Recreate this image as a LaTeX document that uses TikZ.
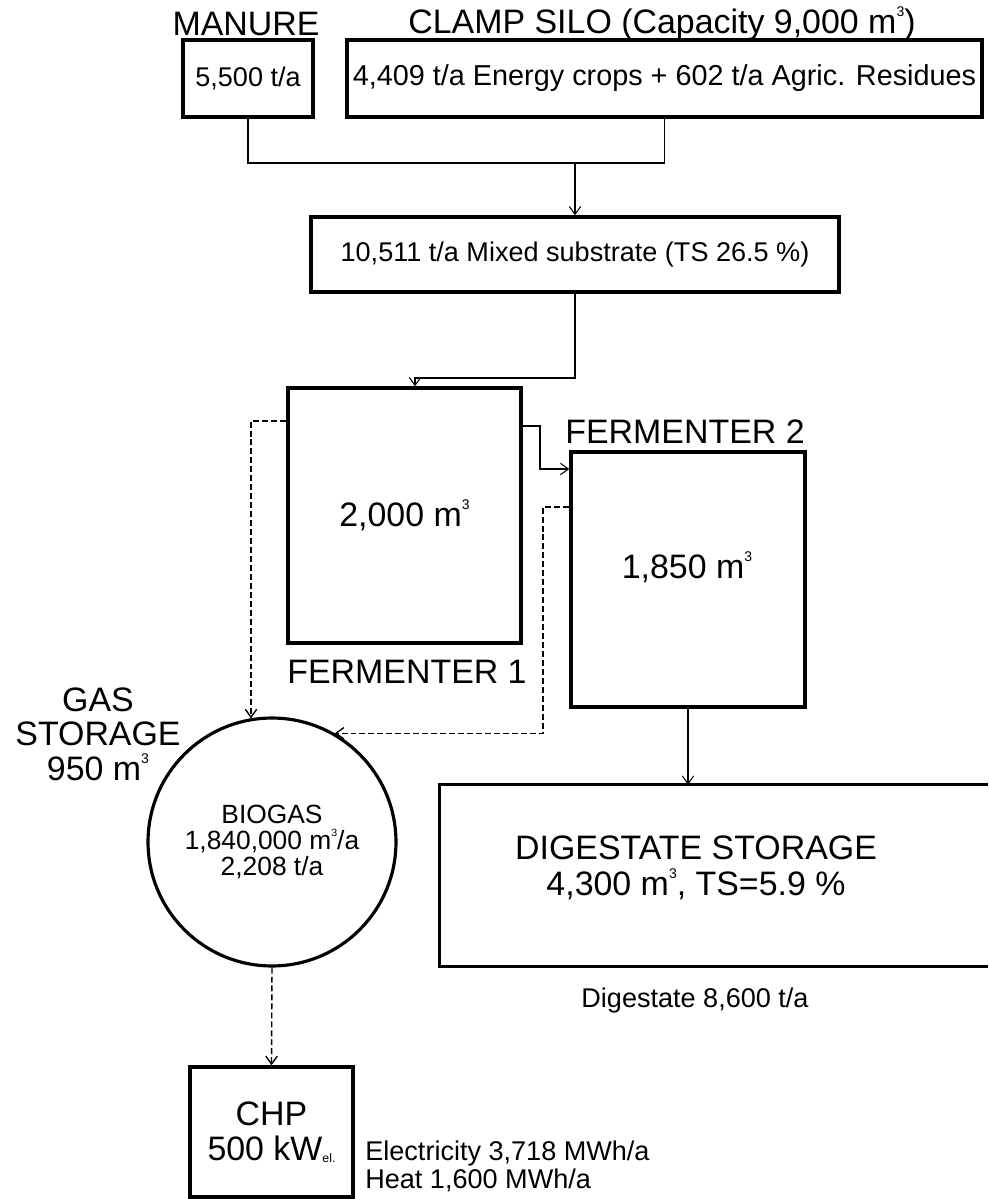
\documentclass[tikz,border=0pt]{standalone}
\usepackage{fontspec}
\setmainfont{Liberation Sans}
\usepackage{tikz}
\usetikzlibrary{arrows.meta}
\usetikzlibrary{backgrounds,calc,positioning}
\pgfdeclarelayer{edgelayer}
\pgfdeclarelayer{nodelayer}
\pgfsetlayers{background,edgelayer,nodelayer,main}
\newcommand{\bigfont}{\fontsize{19.3}{19.6}\selectfont}
\newcommand{\smallfont}{\fontsize{15.4}{15.4}\selectfont}
\newcommand{\cub}{\raisebox{0.95ex}{\fontsize{8}{8}\selectfont 3}}
\newcommand{\cubs}{\raisebox{0.95ex}{\fontsize{6}{6}\selectfont 3}}
\newcommand{\elsub}{\raisebox{-0.1ex}{\fontsize{7}{7}\selectfont el.}}
\tikzstyle{none}=[inner sep=0mm]
\tikzstyle{box}=[draw=black,line width=2pt,shape=rectangle,inner sep=0mm]
\tikzstyle{tank}=[draw=black,line width=1.8pt,shape=circle,inner sep=0mm,minimum size=4.96cm]
\tikzstyle{big}=[inner sep=0mm,align=center,font=\bigfont]
\tikzstyle{small}=[inner sep=0mm,align=center,font=\smallfont]
\tikzstyle{feed}=[line width=0.6pt]
\tikzstyle{flow}=[feed,-{Straight Barb[length=4.5pt,width=6.5pt]}]
\tikzstyle{gasflow}=[flow,line width=0.8pt,dash pattern=on 3.4pt off 1.7pt]

\begin{document}
\begin{tikzpicture}[x=0.02cm,y=-0.02cm]
	\useasboundingbox (0,0) rectangle (988,1199);
	\begin{pgfonlayer}{nodelayer}
		\node [style=big] (manurelbl) at (246,24) {MANURE};
		\node [style=big] (silolbl) at (662,24) {CLAMP SILO (Capacity 9,000 m\cub)};
		\node [style=box,font=\smallfont,minimum width=2.6cm,minimum height=1.54cm] (manure) at (248,78.5) {5,500 t/a};
		\node [style=box,font=\fontsize{16.4}{16.4}\selectfont,minimum width=12.7cm,minimum height=1.54cm] (silo) at (664.5,78.5) {4,409 t/a Energy crops + 602 t/a Agric. Residues};
		\node [style=box,font=\smallfont,minimum width=10.56cm,minimum height=1.5cm] (mixed) at (575,254.5) {10,511 t/a Mixed substrate (TS 26.5 \%)};
		\node [style=box,font=\bigfont,minimum width=4.66cm,minimum height=5.1cm] (f1) at (404.5,515.5) {2,000 m\cub};
		\node [style=big] (f1lbl) at (407,672) {FERMENTER 1};
		\node [style=box,minimum width=4.68cm,minimum height=5.1cm] (f2) at (688,579.5) {};
		\node [style=big] (f2txt) at (687,567) {1,850 m\cub};
		\node [style=big] (f2lbl) at (685,432) {FERMENTER 2};
		\node [style=tank,font=\fontsize{15}{15}\selectfont,align=center] (gas) at (272,842) {BIOGAS\\1,840,000 m\cubs/a\\2,208 t/a};
		\node [style=big] (gaslbl) at (98,734) {GAS\\STORAGE\\950 m\cub};
		\node [style=none,minimum width=10.96cm,minimum height=3.62cm] (dstore) at (714,875.5) {};
		\node [style=big,font=\fontsize{19.3}{20.5}\selectfont] (dtxt) at (696,868) {DIGESTATE STORAGE\\4,300 m\cub, TS=5.9 \%};
		\node [style=small] (dout) at (695,1000) {Digestate 8,600 t/a};
		\node [style=box,font=\fontsize{19.3}{20}\selectfont,align=center,minimum width=3.26cm,minimum height=2.6cm] (chp) at (271.5,1132) {CHP\\500 kW\elsub};
		\node [style=small,font=\fontsize{15.4}{16}\selectfont,align=left,anchor=west] (chpout) at (365,1166) {Electricity 3,718 MWh/a\\Heat 1,600 MWh/a};
	\end{pgfonlayer}
	\begin{pgfonlayer}{edgelayer}
		\coordinate (jm) at (575,163);
		\coordinate (k) at (415,378);
		\coordinate (b1) at (540,426);
		\coordinate (b2) at (540,469);
		\coordinate (g1) at (251,421);
		\coordinate (g2) at (543,507);
		\draw [style=feed] (manure.south) |- (jm) -| (silo.south);
		\draw [style=flow] (jm) to (mixed.north);
		\draw [style=flow] (mixed.south) |- (k) to (k |- f1.north);
		\draw [style=flow] (b1 -| f1.east) to (b1) to (b2) to (b2 -| f2.west);
		\draw [style=gasflow] (g1 -| f1.west) to (g1) to (g1 |- gas.100);
		\draw [style=gasflow] (g2 -| f2.west) to (g2) |- (gas.60);
		\draw [style=flow] (f2.south) to (f2.south |- dstore.north);
		\draw [style=gasflow] (gas.south) to (chp.north);
		\draw [style=box] (dstore.north east) -- (dstore.north west) -- (dstore.south west) -- (dstore.south east);
	\end{pgfonlayer}
\end{tikzpicture}
\end{document}
